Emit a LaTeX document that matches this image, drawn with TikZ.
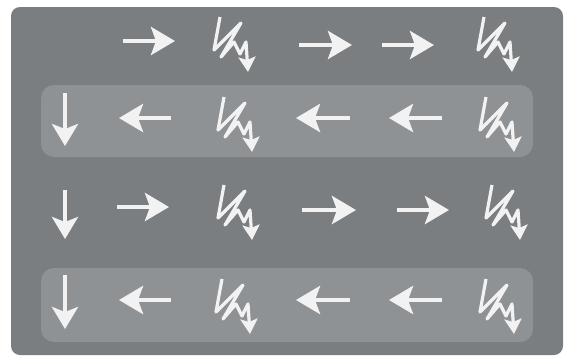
\documentclass[tikz,border=0pt]{standalone}
\usetikzlibrary{arrows.meta}

\definecolor{boardgray}{HTML}{7B7E81}
\definecolor{bandgray}{HTML}{8F9295}
\definecolor{chalk}{HTML}{F2F2F2}

\tikzset{
  flow/.style={draw=chalk, line width=4.5pt,
    -{Stealth[length=24pt,width=28pt,inset=5pt]}},
  drop/.style={draw=chalk, line width=3.6pt,
    -{Stealth[length=22pt,width=26pt,inset=5pt]}},
  zapline/.style={draw=chalk, line width=3.2pt, line join=round,
    -{Stealth[length=15pt,width=17pt,inset=3pt]}},
  zap/.pic={
    \draw[zapline] (0,0) -- (-6,33) -- (21,6) -- (1,40) -- (14,25)
      -- (20,37) -- (26,25) -- (28,55);
  }
}

\begin{document}
\begin{tikzpicture}[x=1pt,y=-1pt]
\useasboundingbox (0,0) rectangle (571,357);
% board and bands
\fill[boardgray, rounded corners=9pt] (11,7) rectangle (563,355);
\fill[bandgray, rounded corners=13pt] (41,85) rectangle (533,157);
\fill[bandgray, rounded corners=13pt] (41,268) rectangle (533,342);

% row 1
\coordinate (a1) at (123,41);
\coordinate (b1) at (175,41);
\coordinate (c1) at (299,45);
\coordinate (d1) at (352,45);
\coordinate (e1) at (382,45);
\coordinate (f1) at (434,45);
\draw[flow] (a1) -- (b1);
\draw[flow] (c1) -- (d1);
\draw[flow] (e1) -- (f1);
\pic at (220,17) {zap};
\pic at (484,17) {zap};

% row 2
\coordinate (s2) at (65,93);
\coordinate (t2) at (65,146);
\coordinate (a2) at (171,118);
\coordinate (b2) at (119,118);
\coordinate (c2) at (350,118);
\coordinate (d2) at (296,118);
\coordinate (e2) at (442,118);
\coordinate (f2) at (389,118);
\draw[drop] (s2) -- (t2);
\draw[flow] (a2) -- (b2);
\draw[flow] (c2) -- (d2);
\draw[flow] (e2) -- (f2);
\pic at (224,97) {zap};
\pic at (486,97) {zap};

% row 3
\coordinate (s3) at (65,190);
\coordinate (t3) at (65,239);
\coordinate (a3) at (117,207);
\coordinate (b3) at (169,207);
\coordinate (c3) at (302,210);
\coordinate (d3) at (356,210);
\coordinate (e3) at (397,210);
\coordinate (f3) at (449,210);
\draw[drop] (s3) -- (t3);
\draw[flow] (a3) -- (b3);
\draw[flow] (c3) -- (d3);
\draw[flow] (e3) -- (f3);
\pic at (224,185) {zap};
\pic at (492,185) {zap};

% row 4
\coordinate (s4) at (65,275);
\coordinate (t4) at (65,329);
\coordinate (a4) at (171,300);
\coordinate (b4) at (119,300);
\coordinate (c4) at (350,300);
\coordinate (d4) at (296,300);
\coordinate (e4) at (442,300);
\coordinate (f4) at (389,300);
\draw[drop] (s4) -- (t4);
\draw[flow] (a4) -- (b4);
\draw[flow] (c4) -- (d4);
\draw[flow] (e4) -- (f4);
\pic at (222,279) {zap};
\pic at (486,279) {zap};
\end{tikzpicture}
\end{document}
